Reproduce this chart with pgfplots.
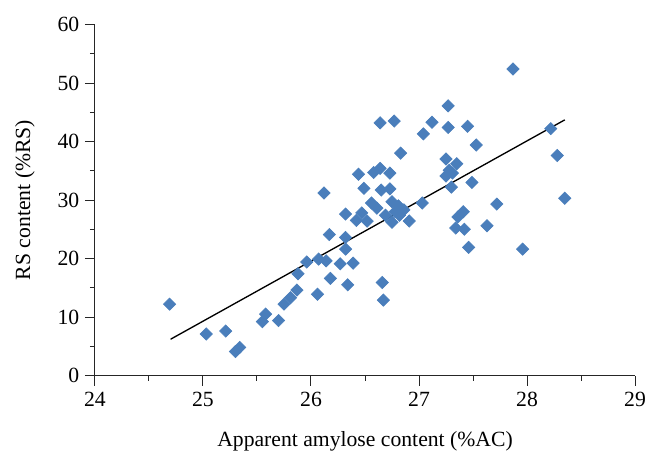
\documentclass[border=0pt]{standalone}
\usepackage{pgfplots}
\pgfplotsset{compat=1.18}
\usepackage{fontspec}
\setmainfont{Liberation Serif}
\definecolor{mk}{RGB}{74,126,187}
\begin{document}
\begin{tikzpicture}
\begin{axis}[
  scale only axis, width=324pt, height=210.6pt,
  at={(0,0)}, anchor=south west,
  xmin=24, xmax=29, ymin=0, ymax=60,
  axis x line=bottom, axis y line=left,
  x axis line style={-}, y axis line style={-},
  axis line style={black!85, line width=0.6pt},
  xtick={24,...,29}, ytick={0,10,...,60},
  minor xtick={24.5,25.5,26.5,27.5,28.5},
  minor ytick={5,15,25,35,45,55},
  tick align=outside, major tick length=6pt, minor tick length=3pt,
  tick style={black!85, line width=0.6pt},
  /pgf/number format/assume math mode=true,
  tick label style={font=\fontsize{13}{16}\selectfont},
  xticklabel style={inner sep=3.5pt},
  yticklabel style={inner sep=3.2pt},
  every axis x label/.style={at={(axis description cs:0.5,0)}, anchor=center, yshift=-39.3pt, font=\fontsize{13}{16}\selectfont},
  every axis y label/.style={at={(axis description cs:0,0.5)}, anchor=center, xshift=-42pt, rotate=90, font=\fontsize{13}{16}\selectfont},
  xlabel={Apparent amylose content (\%AC)},
  ylabel={RS content (\%RS)},
  clip=false,
]
\addplot[only marks, mark=square*, mark size=2.6pt, mark options={rotate=45, fill=mk, draw=mk}] coordinates {
(24.69,12.2) (25.03,7.1) (25.21,7.6) (25.30,4.1) (25.34,4.8)
(25.55,9.2) (25.58,10.5) (25.70,9.4) (25.75,12.2) (25.81,13.3)
(25.87,14.6) (25.88,17.4) (25.96,19.4) (26.06,13.9) (26.07,19.9)
(26.14,19.6) (26.18,16.6) (26.17,24.1) (26.27,19.1) (26.32,23.6)
(26.32,21.6) (26.34,15.5) (26.39,19.2) (26.32,27.6) (26.42,26.5)
(26.47,27.8) (26.52,26.4) (26.56,29.5) (26.61,28.6) (26.66,15.9)
(26.67,12.9)
(26.83,38.0) (26.44,34.4) (26.58,34.7) (26.64,35.4) (26.73,34.6)
(26.12,31.2) (26.49,32.0) (26.65,31.7) (26.73,31.9)
(26.75,29.7) (26.81,29.0) (26.78,28.0) (26.86,28.3) (26.69,27.4)
(26.75,26.2) (26.82,27.4) (26.91,26.4)
(26.64,43.2) (26.77,43.5)
(27.87,52.4) (27.27,46.1) (27.12,43.3) (27.04,41.3) (27.27,42.4)
(27.45,42.6) (27.53,39.4) (28.22,42.2) (28.28,37.6) (27.25,37.0)
(27.35,36.2)
(27.28,35.1) (27.31,34.6) (27.25,34.1) (27.30,32.2) (27.49,33.0)
(27.03,29.5) (27.72,29.3) (27.41,28.0) (27.36,27.1) (27.34,25.2)
(27.42,25.0) (27.63,25.6) (27.46,21.9) (27.96,21.6) (28.35,30.3)
};
\addplot[black, line width=0.8pt] coordinates {(24.70,6.2) (28.35,43.7)};
\end{axis}
\pgfresetboundingbox
\path[use as bounding box] (-57pt,-51.3pt) rectangle (339pt,225.3pt);
\end{tikzpicture}
\end{document}
